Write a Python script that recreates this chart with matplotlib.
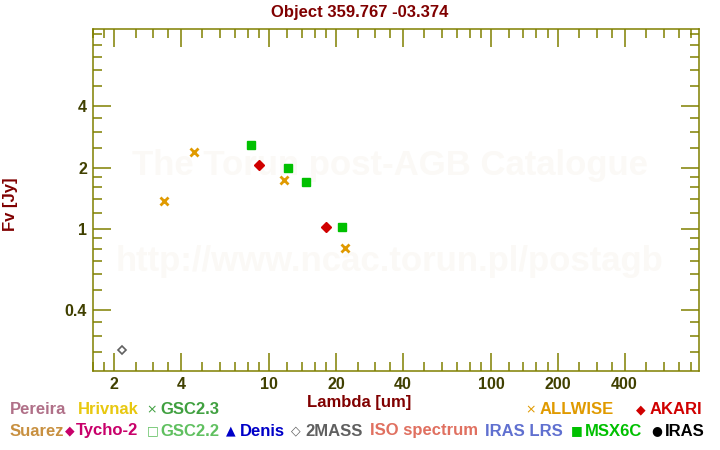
import numpy as np
import matplotlib
matplotlib.use('Agg')
import matplotlib.pyplot as plt
from matplotlib.ticker import FixedLocator, NullFormatter

# Fotometria del objeto (lambda en um, flujo en Jy)
allwise_wl = [3.35, 4.6, 11.6, 22.0]
allwise_fl = [1.37, 2.38, 1.74, 0.81]
akari_wl = [9.0, 18.0]
akari_fl = [2.06, 1.02]
msx_wl = [8.28, 12.13, 14.65, 21.3]
msx_fl = [2.58, 1.99, 1.70, 1.02]
tmass_wl = [2.16]
tmass_fl = [0.255]

x_major = [2, 4, 10, 20, 40, 100, 200, 400]
y_major = [0.4, 1, 2, 4]
y_labels = ['0.4', '1', '2', '4']

olive = '#808000'
tick_col = '#404000'
dark_red = '#800000'
font = 'Liberation Sans'

fig = plt.figure(figsize=(7.2, 4.5), dpi=100)
ax = fig.add_axes([0.1288, 0.1756, 0.8425, 0.7593])
ax.set_xscale('log')
ax.set_yscale('log')
ax.set_xlim(1.6, 869)
ax.set_ylim(0.2016, 9.53)

# marca de agua
ax.text(0.49, 0.60, 'The Torun post-AGB Catalogue', transform=ax.transAxes,
        ha='center', va='center', fontsize=25, fontweight='bold',
        family=font, color='#fbf9f6', zorder=0)
ax.text(0.49, 0.32, 'http://www.ncac.torun.pl/postagb', transform=ax.transAxes,
        ha='center', va='center', fontsize=25, fontweight='bold',
        family=font, color='#fbf9f6', zorder=0)

ax.plot(allwise_wl, allwise_fl, 'x', color='#e09a00', ms=5.5, mew=2, zorder=3)
ax.plot(akari_wl, akari_fl, 'D', color='#d00000', ms=5, zorder=3)
ax.plot(msx_wl, msx_fl, 's', color='#00c000', ms=6, zorder=3)
ax.plot(tmass_wl, tmass_fl, 'D', mfc='white', mec='#606060', ms=4.5, mew=1.2, zorder=3)

# ticks estilo IDL
minor = []
for d in [0.1, 1, 10, 100, 1000]:
    for m in [1.2, 1.4, 1.6, 1.8, 2.5, 3, 3.5, 5, 6, 7, 8, 9]:
        minor.append(m * d)
ax.xaxis.set_major_locator(FixedLocator(x_major))
ax.xaxis.set_minor_locator(FixedLocator(minor))
ax.yaxis.set_major_locator(FixedLocator(y_major))
ax.yaxis.set_minor_locator(FixedLocator(minor))
ax.set_xticklabels([str(v) for v in x_major])
ax.set_yticklabels(y_labels)
ax.xaxis.set_minor_formatter(NullFormatter())
ax.yaxis.set_minor_formatter(NullFormatter())
ax.tick_params(which='both', direction='in', top=True, right=True, color=olive,
               width=1.1, labelcolor=tick_col, labelsize=11.5, pad=4)
ax.tick_params(which='major', length=13)
ax.tick_params(which='minor', length=6.5)
for lab in ax.get_xticklabels() + ax.get_yticklabels():
    lab.set_fontweight('bold')
    lab.set_family(font)
for s in ax.spines.values():
    s.set_color(olive)
    s.set_linewidth(1.1)

fig.text(0.5, 1 - 12 / 450, 'Object 359.767 -03.374', ha='center', va='center',
         fontsize=12, fontweight='bold', family=font, color=dark_red)
fig.text(10 / 720, 1 - 204 / 450, 'Fv [Jy]', rotation=90, ha='center', va='center',
         fontsize=12, fontweight='bold', family=font, color=dark_red)
fig.text(359 / 720, 1 - 403 / 450, 'Lambda [um]', ha='center', va='center',
         fontsize=12, fontweight='bold', family=font, color=dark_red)

# leyenda de catalogos
legend_items = [
    # (x marcador, x texto, y, marcador, texto, color)
    (None, 10, 410, '', 'Pereira', '#b07088'),
    (None, 78, 410, '', 'Hrivnak', '#e8c810'),
    (146, 160, 410, '×', 'GSC2.3', '#40a040'),
    (525, 540, 410, '×', 'ALLWISE', '#e09a00'),
    (636, 650, 410, '◆', 'AKARI', '#d00000'),
    (None, 10, 431, '', 'Suarez', '#c89040'),
    (65, 76, 431, '◆', 'Tycho-2', '#c8006a'),
    (147, 160, 431, '□', 'GSC2.2', '#60c060'),
    (226, 240, 431, '▲', 'Denis', '#0000c8'),
    (291, 305, 431, '◇', '2MASS', '#606060'),
    (None, 370, 431, '', 'ISO spectrum', '#e07060'),
    (None, 485, 431, '', 'IRAS LRS', '#6070d0'),
    (571, 585, 431, '■', 'MSX6C', '#00c000'),
    (651, 665, 431, '●', 'IRAS', '#000000'),
]
for xm, xt, y, mk, txt, col in legend_items:
    if mk:
        fig.text(xm / 720, 1 - y / 450, mk, ha='left', va='center', fontsize=9,
                 family='DejaVu Sans', color=col)
    fig.text(xt / 720, 1 - y / 450, txt, ha='left', va='center', fontsize=12,
             fontweight='bold', family=font, color=col)

fig.savefig('out.png', dpi=100)
